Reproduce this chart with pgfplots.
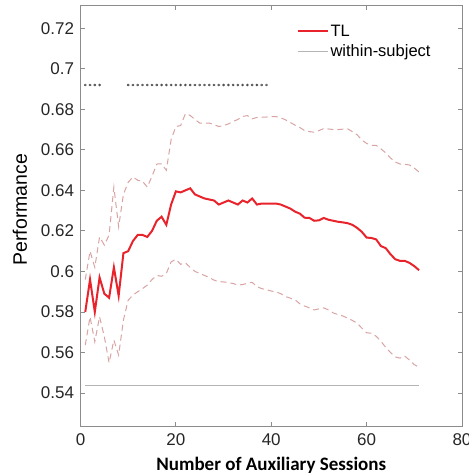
\documentclass[border=0pt]{standalone}
\usepackage{fontspec}
\setmainfont{Liberation Sans}
\newfontfamily\carlito{Carlito}
\usepackage{pgfplots}
\pgfplotsset{compat=1.18}
\definecolor{tlred}{HTML}{E8232B}
\definecolor{ciband}{HTML}{D9A3A3}
\definecolor{wsgray}{HTML}{B5B5B5}
\definecolor{axgray}{HTML}{8C8C8C}

\begin{document}
\begin{tikzpicture}
\useasboundingbox (-80.5pt,-50pt) rectangle (387.5pt,426pt);
\begin{axis}[
    at={(0,0)}, anchor=south west,
    scale only axis,
    width=381.5pt,
    height=420pt,
    xmin=0, xmax=80,
    ymin=0.5237, ymax=0.731,
    xtick={0,20,...,80},
    ytick={0.54,0.56,...,0.721},
    /pgf/number format/assume math mode=true,
    yticklabel style={/pgf/number format/fixed,/pgf/number format/precision=2},
    tick label style={font=\fontsize{17}{19}\selectfont, text=black!85},
    xticklabel style={yshift=-4pt},
    yticklabel style={xshift=-3pt},
    axis line style={axgray, line width=1pt},
    tick style={axgray, line width=0.8pt},
    major tick length=4pt,
    tick align=inside,
    xlabel={\carlito\bfseries Number of Auxiliary Sessions},
    xlabel style={font=\fontsize{19}{21}\selectfont, at={(axis description cs:0.5,0)}, anchor=base, yshift=-44pt},
    ylabel={Performance},
    ylabel style={font=\fontsize{19.5}{21}\selectfont, at={(axis description cs:-0.1586,0.515)}, anchor=center},
    legend style={draw=none, fill=none, at={(0.558,0.965)}, anchor=north west,
        font=\fontsize{16.5}{18}\selectfont, row sep=3pt,
        /tikz/every even column/.append style={column sep=2pt}},
    legend cell align=left,
    legend image code/.code={\draw[#1] (0pt,0pt) -- (30pt,0pt);},
]
% TL mean
\addplot[tlred, line width=2pt] coordinates {
(1,0.580)(2,0.596)(3,0.580)(4,0.597)(5,0.589)(6,0.587)(7,0.602)(8,0.588)(9,0.609)(10,0.610)
(11,0.615)(12,0.618)(13,0.618)(14,0.617)(15,0.620)(16,0.625)(17,0.627)(18,0.623)(19,0.633)(20,0.6395)
(21,0.639)(22,0.640)(23,0.641)(24,0.638)(25,0.637)(26,0.636)(27,0.6355)(28,0.635)(29,0.633)(30,0.634)
(31,0.635)(32,0.634)(33,0.633)(34,0.635)(35,0.634)(36,0.636)(37,0.633)(38,0.6335)(39,0.6335)(40,0.6335)
(41,0.6335)(42,0.633)(43,0.632)(44,0.631)(45,0.6295)(46,0.6285)(47,0.6265)(48,0.6264)(49,0.625)(50,0.6252)
(51,0.6264)(52,0.6255)(53,0.625)(54,0.6245)(55,0.6242)(56,0.6238)(57,0.623)(58,0.6215)(59,0.6195)(60,0.6167)
(61,0.6165)(62,0.6158)(63,0.6125)(64,0.6115)(65,0.6085)(66,0.606)(67,0.6052)(68,0.6052)(69,0.6042)(70,0.6026)
(71,0.6006)
};
\addlegendentry{TL}
% within-subject baseline
\addplot[wsgray, line width=1pt] coordinates {(1,0.5439)(71,0.5439)};
\addlegendentry{within-subject}
% upper bound
\addplot[ciband, line width=1pt, dash pattern=on 6pt off 4pt, forget plot] coordinates {
(1,0.596)(2,0.610)(3,0.602)(4,0.617)(5,0.613)(6,0.618)(7,0.6416)(8,0.622)(9,0.638)(10,0.644)
(11,0.6466)(12,0.645)(13,0.6445)(14,0.6416)(15,0.647)(16,0.653)(17,0.6531)(18,0.6499)(19,0.665)(20,0.6715)
(21,0.672)(22,0.6778)(23,0.677)(24,0.675)(25,0.6732)(26,0.6732)(27,0.6732)(28,0.6725)(29,0.6715)(30,0.672)
(31,0.6728)(32,0.674)(33,0.675)(34,0.6765)(35,0.6769)(36,0.6753)(37,0.676)(38,0.6761)(39,0.6762)(40,0.6764)
(41,0.6764)(42,0.6758)(43,0.6748)(44,0.6735)(45,0.6722)(46,0.671)(47,0.6695)(48,0.669)(49,0.6687)(50,0.6695)
(51,0.6705)(52,0.6703)(53,0.670)(54,0.670)(55,0.6702)(56,0.6704)(57,0.669)(58,0.6675)(59,0.6648)(60,0.6632)
(61,0.6622)(62,0.6622)(63,0.6605)(64,0.6585)(65,0.656)(66,0.654)(67,0.653)(68,0.6529)(69,0.6525)(70,0.651)
(71,0.649)
};
% lower bound
\addplot[ciband, line width=1pt, dash pattern=on 6pt off 4pt, forget plot] coordinates {
(1,0.5636)(2,0.5776)(3,0.5653)(4,0.5776)(5,0.5677)(6,0.5549)(7,0.5661)(8,0.5587)(9,0.576)(10,0.5858)
(11,0.5883)(12,0.590)(13,0.5915)(14,0.5932)(15,0.596)(16,0.598)(17,0.5976)(18,0.599)(19,0.6047)(20,0.606)
(21,0.6035)(22,0.6042)(23,0.602)(24,0.600)(25,0.599)(26,0.598)(27,0.597)(28,0.5957)(29,0.595)(30,0.5948)
(31,0.5945)(32,0.594)(33,0.5933)(34,0.5935)(35,0.5942)(36,0.5946)(37,0.5925)(38,0.5915)(39,0.591)(40,0.5903)
(41,0.5899)(42,0.589)(43,0.5876)(44,0.5868)(45,0.586)(46,0.584)(47,0.5829)(48,0.582)(49,0.581)(50,0.5815)
(51,0.582)(52,0.581)(53,0.5795)(54,0.5787)(55,0.578)(56,0.577)(57,0.5758)(58,0.5745)(59,0.572)(60,0.5697)
(61,0.5695)(62,0.568)(63,0.5655)(64,0.5625)(65,0.560)(66,0.5578)(67,0.5572)(68,0.5582)(69,0.5562)(70,0.554)
(71,0.5526)
};
% significance markers
\addplot[only marks, mark=asterisk, mark size=1.3pt, black!75, forget plot] coordinates {
(1,0.692)(2,0.692)(3,0.692)(4,0.692)
(10,0.692)(11,0.692)(12,0.692)(13,0.692)(14,0.692)(15,0.692)(16,0.692)(17,0.692)(18,0.692)(19,0.692)
(20,0.692)(21,0.692)(22,0.692)(23,0.692)(24,0.692)(25,0.692)(26,0.692)(27,0.692)(28,0.692)(29,0.692)
(30,0.692)(31,0.692)(32,0.692)(33,0.692)(34,0.692)(35,0.692)(36,0.692)(37,0.692)(38,0.692)(39,0.692)
};
\end{axis}
\end{tikzpicture}
\end{document}
